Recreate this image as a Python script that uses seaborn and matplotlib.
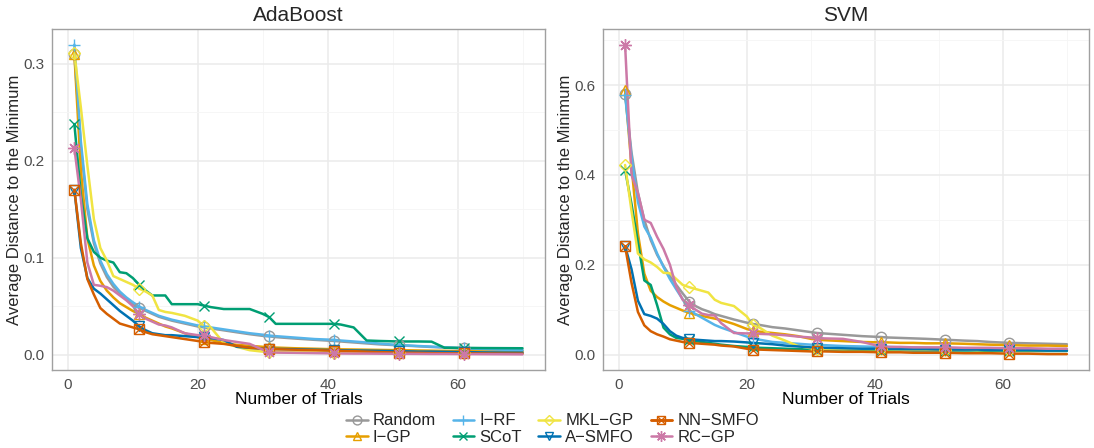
import pandas as pd
import matplotlib
matplotlib.use("Agg")
import matplotlib.pyplot as plt
from matplotlib.lines import Line2D
from matplotlib.ticker import MultipleLocator, FormatStrFormatter
import seaborn as sns

# trial grid the curves were read on
TRIALS = [1, 2, 3, 4, 5, 6, 7, 8, 9, 10, 11, 12, 13, 14, 15, 16, 18, 20, 21, 22, 24,
          26, 28, 30, 31, 32, 35, 38, 41, 42, 44, 46, 48, 51, 54, 56, 58, 61, 64, 67, 70]
MARK_TRIALS = [1, 11, 21, 31, 41, 51, 61]

METHODS = ["Random", "I-GP", "I-RF", "SCoT", "MKL-GP", "A-SMFO", "NN-SMFO", "RC-GP"]
LABELS = ["Random", "I\u2212GP", "I\u2212RF", "SCoT", "MKL\u2212GP", "A\u2212SMFO", "NN\u2212SMFO", "RC\u2212GP"]
COLORS = ["#999999", "#E69F00", "#56B4E9", "#009E73", "#F0E442", "#0072B2", "#D55E00", "#CC79A7"]

# AdaBoost panel
ADA_RANDOM = [0.310, 0.215, 0.150, 0.115, 0.094, 0.080, 0.070, 0.063, 0.057, 0.052, 0.048, 0.045, 0.042, 0.039, 0.037, 0.035,
              0.032, 0.029, 0.028, 0.027, 0.025, 0.023, 0.021, 0.0193, 0.0188, 0.018, 0.0165, 0.0152, 0.014, 0.0135,
              0.0125, 0.0115, 0.0105, 0.0095, 0.0085, 0.0078, 0.0072, 0.0063, 0.0055, 0.0048, 0.0042]
ADA_IGP = [0.310, 0.190, 0.120, 0.092, 0.076, 0.066, 0.059, 0.053, 0.049, 0.045, 0.042, 0.038, 0.035, 0.032, 0.029, 0.027,
           0.022, 0.018, 0.016, 0.015, 0.012, 0.010, 0.009, 0.008, 0.0076, 0.0072, 0.0065, 0.006, 0.0055, 0.0054,
           0.0052, 0.005, 0.0048, 0.0045, 0.0042, 0.004, 0.0038, 0.0035, 0.0032, 0.003, 0.0028]
ADA_IRF = [0.320, 0.220, 0.155, 0.118, 0.097, 0.083, 0.073, 0.065, 0.059, 0.054, 0.0496, 0.046, 0.043, 0.040, 0.038, 0.036,
           0.033, 0.030, 0.029, 0.028, 0.026, 0.024, 0.022, 0.0205, 0.0196, 0.019, 0.0175, 0.016, 0.0152, 0.0145,
           0.0135, 0.0125, 0.0113, 0.0098, 0.0088, 0.0082, 0.0075, 0.0065, 0.0058, 0.005, 0.0045]
ADA_SCOT = [0.238, 0.165, 0.120, 0.106, 0.100, 0.097, 0.095, 0.085, 0.084, 0.079, 0.072, 0.066, 0.061, 0.061, 0.061, 0.052,
            0.052, 0.052, 0.0505, 0.049, 0.047, 0.047, 0.047, 0.042, 0.0386, 0.0317, 0.0317, 0.0317, 0.0317, 0.031,
            0.028, 0.0145, 0.0140, 0.0135, 0.0135, 0.0133, 0.007, 0.0069, 0.0067, 0.0066, 0.0065]
ADA_MKL = [0.311, 0.255, 0.195, 0.140, 0.110, 0.097, 0.081, 0.078, 0.075, 0.072, 0.068, 0.065, 0.061, 0.046, 0.044, 0.043,
           0.040, 0.035, 0.029, 0.028, 0.012, 0.008, 0.0045, 0.003, 0.003, 0.0028, 0.0025, 0.0022, 0.002, 0.002,
           0.002, 0.002, 0.0019, 0.0018, 0.0018, 0.0017, 0.0017, 0.0016, 0.0016, 0.0015, 0.0015]
ADA_ASMFO = [0.170, 0.110, 0.079, 0.068, 0.063, 0.057, 0.051, 0.045, 0.040, 0.035, 0.029, 0.025, 0.022, 0.021, 0.020, 0.020,
             0.019, 0.018, 0.018, 0.017, 0.015, 0.008, 0.007, 0.006, 0.006, 0.0058, 0.0055, 0.005, 0.0045, 0.0044,
             0.0042, 0.004, 0.0038, 0.0035, 0.003, 0.003, 0.0028, 0.0025, 0.0022, 0.002, 0.002]
ADA_NNSMFO = [0.170, 0.115, 0.078, 0.062, 0.048, 0.042, 0.037, 0.032, 0.030, 0.028, 0.026, 0.023, 0.021, 0.020, 0.019, 0.018,
              0.016, 0.014, 0.013, 0.012, 0.011, 0.009, 0.007, 0.006, 0.0058, 0.0055, 0.005, 0.0045, 0.004, 0.0038,
              0.0035, 0.003, 0.0025, 0.002, 0.0018, 0.0015, 0.0013, 0.0012, 0.0011, 0.001, 0.001]
ADA_RCGP = [0.213, 0.160, 0.095, 0.072, 0.071, 0.0696, 0.066, 0.061, 0.056, 0.050, 0.042, 0.037, 0.034, 0.031, 0.030, 0.028,
            0.022, 0.020, 0.020, 0.018, 0.015, 0.013, 0.011, 0.005, 0.0024, 0.002, 0.0018, 0.0015, 0.0012, 0.0011,
            0.001, 0.001, 0.0009, 0.0008, 0.0007, 0.0006, 0.0006, 0.0005, 0.0004, 0.0003, 0.0002]

# SVM panel
SVM_RANDOM = [0.580, 0.450, 0.360, 0.300, 0.255, 0.222, 0.197, 0.175, 0.155, 0.136, 0.118, 0.108, 0.101, 0.096, 0.090, 0.086,
              0.078, 0.071, 0.068, 0.066, 0.061, 0.058, 0.054, 0.050, 0.048, 0.047, 0.044, 0.041, 0.039, 0.038,
              0.037, 0.036, 0.035, 0.033, 0.031, 0.030, 0.028, 0.026, 0.025, 0.024, 0.023]
SVM_IGP = [0.589, 0.420, 0.270, 0.180, 0.142, 0.128, 0.118, 0.110, 0.104, 0.098, 0.093, 0.089, 0.086, 0.083, 0.080, 0.077,
           0.068, 0.057, 0.053, 0.051, 0.048, 0.045, 0.041, 0.035, 0.033, 0.032, 0.030, 0.028, 0.027, 0.027,
           0.026, 0.026, 0.025, 0.025, 0.024, 0.023, 0.022, 0.021, 0.020, 0.020, 0.019]
SVM_IRF = [0.578, 0.440, 0.340, 0.285, 0.260, 0.225, 0.195, 0.168, 0.145, 0.123, 0.098, 0.090, 0.082, 0.074, 0.066, 0.060,
           0.050, 0.040, 0.036, 0.033, 0.028, 0.026, 0.024, 0.022, 0.021, 0.021, 0.019, 0.018, 0.017, 0.017,
           0.016, 0.016, 0.015, 0.014, 0.013, 0.013, 0.012, 0.012, 0.011, 0.011, 0.010]
SVM_SCOT = [0.411, 0.335, 0.250, 0.165, 0.155, 0.110, 0.060, 0.045, 0.037, 0.035, 0.033, 0.030, 0.028, 0.026, 0.024, 0.022,
            0.019, 0.017, 0.016, 0.015, 0.014, 0.013, 0.012, 0.012, 0.011, 0.011, 0.011, 0.010, 0.010, 0.010,
            0.010, 0.009, 0.009, 0.009, 0.009, 0.009, 0.008, 0.008, 0.008, 0.008, 0.008]
SVM_MKL = [0.422, 0.320, 0.225, 0.212, 0.205, 0.195, 0.182, 0.181, 0.168, 0.155, 0.150, 0.146, 0.142, 0.138, 0.122, 0.115,
           0.108, 0.085, 0.065, 0.060, 0.042, 0.031, 0.019, 0.014, 0.013, 0.013, 0.012, 0.012, 0.012, 0.012,
           0.011, 0.011, 0.011, 0.011, 0.011, 0.010, 0.010, 0.010, 0.010, 0.010, 0.010]
SVM_ASMFO = [0.241, 0.190, 0.120, 0.090, 0.086, 0.080, 0.068, 0.052, 0.042, 0.037, 0.035, 0.033, 0.032, 0.031, 0.030, 0.030,
             0.029, 0.027, 0.026, 0.025, 0.023, 0.020, 0.018, 0.016, 0.015, 0.015, 0.014, 0.013, 0.013, 0.013,
             0.012, 0.012, 0.012, 0.011, 0.011, 0.011, 0.010, 0.010, 0.010, 0.009, 0.009]
SVM_NNSMFO = [0.241, 0.160, 0.095, 0.065, 0.052, 0.045, 0.040, 0.034, 0.031, 0.028, 0.026, 0.025, 0.024, 0.023, 0.022, 0.020,
              0.018, 0.013, 0.011, 0.011, 0.010, 0.009, 0.008, 0.007, 0.007, 0.007, 0.006, 0.006, 0.005, 0.005,
              0.005, 0.004, 0.004, 0.004, 0.003, 0.003, 0.003, 0.002, 0.002, 0.001, 0.001]
SVM_RCGP = [0.689, 0.400, 0.360, 0.300, 0.293, 0.262, 0.235, 0.200, 0.150, 0.122, 0.111, 0.100, 0.091, 0.088, 0.087, 0.070,
            0.048, 0.047, 0.047, 0.046, 0.045, 0.043, 0.040, 0.038, 0.037, 0.036, 0.035, 0.028, 0.018, 0.017,
            0.017, 0.016, 0.016, 0.016, 0.015, 0.015, 0.015, 0.014, 0.014, 0.013, 0.013]

PANELS = {
    "AdaBoost": [ADA_RANDOM, ADA_IGP, ADA_IRF, ADA_SCOT, ADA_MKL, ADA_ASMFO, ADA_NNSMFO, ADA_RCGP],
    "SVM": [SVM_RANDOM, SVM_IGP, SVM_IRF, SVM_SCOT, SVM_MKL, SVM_ASMFO, SVM_NNSMFO, SVM_RCGP],
}

MARKERS = {"Random": ["o"], "I-GP": ["^"], "I-RF": ["+"], "SCoT": ["x"], "MKL-GP": ["D"],
           "A-SMFO": ["v"], "NN-SMFO": ["s", "x"], "RC-GP": [(8, 2, 0)]}
MSIZE = {"o": 7.5, "^": 7.5, "+": 9, "x": 7, "D": 6.5, "v": 7.5, "s": 7, (8, 2, 0): 9}


def build_frame():
    rows = []
    for panel, series in PANELS.items():
        for method, vals in zip(METHODS, series):
            for t, v in zip(TRIALS, vals):
                rows.append({"panel": panel, "method": method, "trial": t, "dist": v})
    return pd.DataFrame(rows)


def style_axis(ax, ymajor, yfmt):
    ax.set_facecolor("white")
    ax.xaxis.set_major_locator(MultipleLocator(20))
    ax.xaxis.set_minor_locator(MultipleLocator(10))
    ax.yaxis.set_major_locator(MultipleLocator(ymajor))
    ax.yaxis.set_minor_locator(MultipleLocator(ymajor / 2))
    ax.yaxis.set_major_formatter(FormatStrFormatter(yfmt))
    ax.grid(which="major", color="#EBEBEB", lw=1.1, zorder=0)
    ax.grid(which="minor", color="#F5F5F5", lw=0.6, zorder=0)
    ax.set_axisbelow(True)
    for sp in ax.spines.values():
        sp.set_color("#A0A0A0")
        sp.set_linewidth(1.0)
    ax.tick_params(which="major", length=3.5, width=0.8, color="#555555",
                   labelsize=11, labelcolor="#4D4D4D", pad=2)
    ax.tick_params(which="minor", length=0)
    ax.set_xlabel("Number of Trials", fontsize=12.5, color="black", labelpad=0)


def main():
    df = build_frame()
    palette = dict(zip(METHODS, COLORS))

    sns.set_theme(style="white")
    plt.rcParams["font.family"] = ["Liberation Sans", "DejaVu Sans"]

    fig = plt.figure(figsize=(10.94, 4.48), dpi=100)
    ax1 = fig.add_axes([0.0475, 0.174, 0.4506, 0.761])
    ax2 = fig.add_axes([0.5512, 0.174, 0.4442, 0.761])

    for ax, panel, ymajor in [(ax1, "AdaBoost", 0.1), (ax2, "SVM", 0.2)]:
        sub = df[df["panel"] == panel]
        sns.lineplot(data=sub, x="trial", y="dist", hue="method", hue_order=METHODS,
                     palette=palette, estimator=None, sort=False, lw=1.8,
                     legend=False, ax=ax, zorder=3)
        marks = sub[sub["trial"].isin(MARK_TRIALS)]
        for method in METHODS:
            m = marks[marks["method"] == method]
            for mk in MARKERS[method]:
                ax.plot(m["trial"], m["dist"], linestyle="none", marker=mk,
                        ms=MSIZE[mk], mfc="none", mec=palette[method], mew=1.0, zorder=4)
        style_axis(ax, ymajor, "%.1f")
        ax.set_title(panel, fontsize=15, pad=6)
        ax.set_ylabel("Average Distance to the Minimum", fontsize=12, labelpad=1)

    ax1.set_xlim(-2.45, 73.45)
    ax1.set_ylim(-0.016, 0.336)
    ax2.set_xlim(-2.45, 73.45)
    ax2.set_ylim(-0.0345, 0.7245)

    handles = []
    for method in METHODS:
        parts = [Line2D([], [], color=palette[method], lw=1.8, marker=mk, ms=MSIZE[mk] * 0.85,
                        mfc="none", mec=palette[method], mew=1.0)
                 for mk in MARKERS[method]]
        handles.append(tuple(parts) if len(parts) > 1 else parts[0])
    fig.legend(handles, LABELS, loc="center", bbox_to_anchor=(0.505, 0.042), ncol=4,
               frameon=False, fontsize=12, handlelength=1.3, handletextpad=0.3,
               columnspacing=1.0, labelspacing=0.1)

    fig.savefig("out.png", dpi=100)


if __name__ == "__main__":
    main()
